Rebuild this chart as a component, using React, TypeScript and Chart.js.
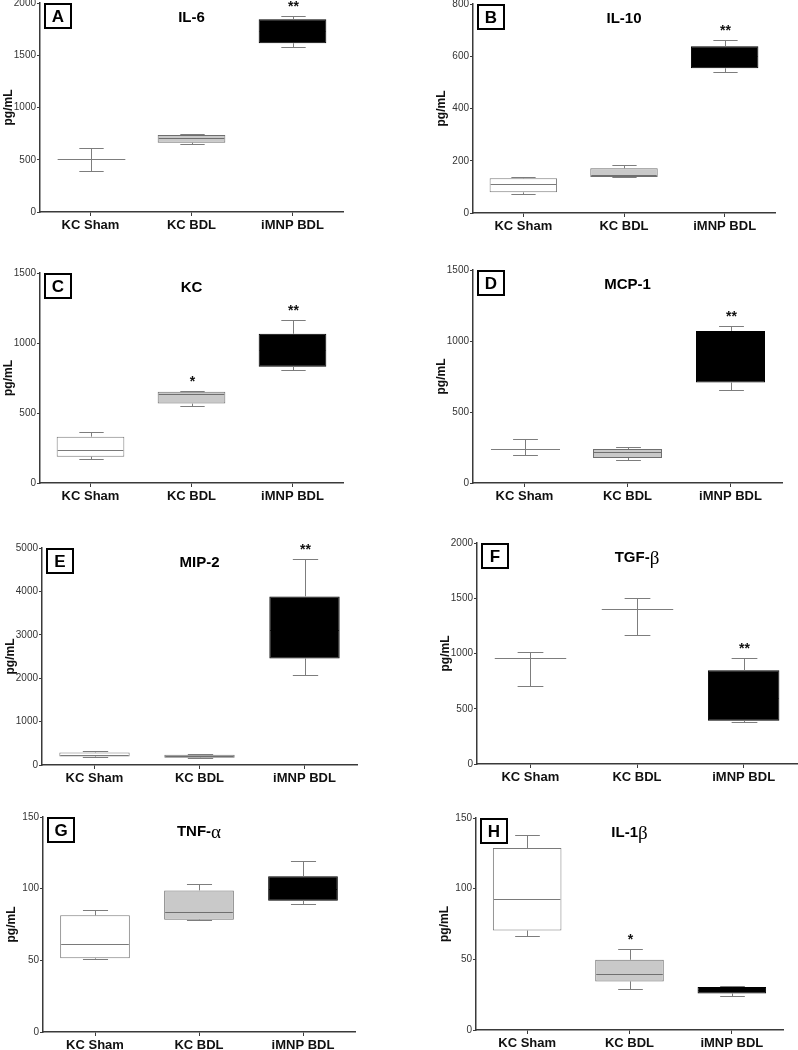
import React, { useEffect, useRef } from 'react';
import { Chart, registerables } from 'chart.js';

Chart.register(...registerables);

const FONT = '"Liberation Sans", Arial, Helvetica, sans-serif';
const SERIF = '"Liberation Serif", "Times New Roman", serif';
Chart.defaults.font.family = FONT;

// ---------- DATA ----------
const categories = ['KC Sham', 'KC BDL', 'iMNP BDL'];
const yAxisTitle = 'pg/mL';

// each group: [min, q1, median, q3, max]
const il6Stats = [[395, 507, 507, 507, 615], [648, 663, 705, 737, 743], [1579, 1615, 1730, 1844, 1879]];
const il6Marks = ['', '', '**'];
const il6Ticks = [0, 500, 1000, 1500, 2000];

const il10Stats = [[73, 79, 110, 133, 138], [138, 138, 145, 171, 183], [540, 554, 600, 638, 661]];
const il10Marks = ['', '', '**'];
const il10Ticks = [0, 200, 400, 600, 800];

const kcStats = [[171, 188, 238, 331, 362], [548, 567, 634, 652, 655], [807, 831, 950, 1066, 1167]];
const kcMarks = ['', '*', '**'];
const kcTicks = [0, 500, 1000, 1500];

const mcp1Stats = [[197, 239, 239, 239, 311], [159, 176, 220, 239, 251], [656, 708, 900, 1071, 1109]];
const mcp1Marks = ['', '', '**'];
const mcp1Ticks = [0, 500, 1000, 1500];

const mip2Stats = [[195, 198, 237, 290, 313], [160, 168, 198, 237, 250], [2081, 2456, 3100, 3885, 4747]];
const mip2Marks = ['', '', '**'];
const mip2Ticks = [0, 1000, 2000, 3000, 4000, 5000];

const tgfbStats = [[710, 957, 957, 957, 1014], [1167, 1399, 1399, 1399, 1504], [379, 391, 600, 848, 962]];
const tgfbMarks = ['', '', '**'];
const tgfbTicks = [0, 500, 1000, 1500, 2000];

const tnfaStats = [[51, 51.4, 61.6, 81.4, 85.3], [77.9, 78.4, 83.5, 98.8, 103.3], [89.3, 91.6, 100, 108.6, 119.3]];
const tnfaMarks = ['', '', ''];
const tnfaTicks = [0, 50, 100, 150];

const il1bStats = [[66.4, 70.4, 92.5, 128.8, 137.7], [28.7, 34.4, 39.6, 49.7, 57.2], [24.2, 25.9, 28, 30.4, 30.9]];
const il1bMarks = ['', '*', ''];
const il1bTicks = [0, 50, 100, 150];

// ---------- STYLE ----------
const boxFill = ['#ffffff', '#c9c9c9', '#000000'];
const boxEdge = ['#7a7a7a', '#6f6f6f', '#000000'];
const medianColor = ['#7a7a7a', '#6f6f6f', '#000000'];
const whiskerColor = '#7d7d7d';
const axisColor = '#3a3a3a';

// ---------- LAYOUT ----------
// canvas [x, y, w, h] and plot box [left, right, top, bottom] in page pixels
const panels = [
  { letter: 'A', title: 'IL-6', stats: il6Stats, marks: il6Marks, ticks: il6Ticks, canvas: [0, 0, 399, 245], plot: [40, 343, 3, 212] },
  { letter: 'B', title: 'IL-10', stats: il10Stats, marks: il10Marks, ticks: il10Ticks, canvas: [399, 0, 399, 245], plot: [473, 775, 4, 213] },
  { letter: 'C', title: 'KC', stats: kcStats, marks: kcMarks, ticks: kcTicks, canvas: [0, 245, 399, 260], plot: [40, 343, 273, 483] },
  { letter: 'D', title: 'MCP-1', stats: mcp1Stats, marks: mcp1Marks, ticks: mcp1Ticks, canvas: [399, 245, 399, 260], plot: [473, 782, 270, 483] },
  { letter: 'E', title: 'MIP-2', stats: mip2Stats, marks: mip2Marks, ticks: mip2Ticks, canvas: [0, 505, 399, 285], plot: [42, 357, 548, 765] },
  { letter: 'F', title: 'TGF-β', stats: tgfbStats, marks: tgfbMarks, ticks: tgfbTicks, canvas: [399, 505, 399, 285], plot: [477, 797, 543, 764] },
  { letter: 'G', title: 'TNF-α', stats: tnfaStats, marks: tnfaMarks, ticks: tnfaTicks, canvas: [0, 790, 399, 260], plot: [43, 355, 817, 1032] },
  { letter: 'H', title: 'IL-1β', stats: il1bStats, marks: il1bMarks, ticks: il1bTicks, canvas: [399, 790, 399, 260], plot: [476, 783, 818, 1030] },
];

const Y_AXIS_W = 40;
const BAR_PCT = 0.67;
const CAP_FRAC = 0.36;

const crisp = (v: number) => Math.round(v) + 0.5;

const boxPlugin = {
  id: 'boxExtras',
  afterDatasetsDraw(chart: any, _args: any, opts: any) {
    const { ctx, scales } = chart;
    const x = scales.x;
    const y = scales.y;
    const stats: number[][] = opts.stats;
    const meta = chart.getDatasetMeta(0);
    const catW = Math.abs(x.getPixelForValue(1) - x.getPixelForValue(0));
    ctx.save();
    ctx.lineWidth = 1;
    stats.forEach((s, i) => {
      const [mn, q1, md, q3, mx] = s;
      const el = meta.data[i];
      const elW = el && Number.isFinite(el.width) && el.width > 0 ? el.width : catW * BAR_PCT;
      const boxW = elW;
      const capW = catW * BAR_PCT * CAP_FRAC;
      const cx = crisp(x.getPixelForValue(i));
      ctx.strokeStyle = whiskerColor;
      ctx.beginPath();
      // upper whisker
      ctx.moveTo(cx, y.getPixelForValue(q3));
      ctx.lineTo(cx, crisp(y.getPixelForValue(mx)));
      ctx.moveTo(cx - capW / 2, crisp(y.getPixelForValue(mx)));
      ctx.lineTo(cx + capW / 2, crisp(y.getPixelForValue(mx)));
      // lower whisker
      ctx.moveTo(cx, y.getPixelForValue(q1));
      ctx.lineTo(cx, crisp(y.getPixelForValue(mn)));
      ctx.moveTo(cx - capW / 2, crisp(y.getPixelForValue(mn)));
      ctx.lineTo(cx + capW / 2, crisp(y.getPixelForValue(mn)));
      ctx.stroke();
      // median
      const left = el && Number.isFinite(el.x) && q1 !== q3 ? el.x - boxW / 2 + 1 : cx - boxW / 2;
      const right = el && Number.isFinite(el.x) && q1 !== q3 ? el.x + boxW / 2 - 1 : cx + boxW / 2;
      ctx.strokeStyle = q1 === q3 ? whiskerColor : medianColor[i];
      ctx.beginPath();
      const my = crisp(y.getPixelForValue(md));
      ctx.moveTo(left, my);
      ctx.lineTo(right, my);
      ctx.stroke();
      // significance marks
      const mark = opts.marks[i];
      if (mark) {
        ctx.fillStyle = '#111';
        ctx.font = `bold 14px ${FONT}`;
        ctx.textAlign = 'center';
        ctx.textBaseline = 'alphabetic';
        ctx.fillText(mark, cx, y.getPixelForValue(mx) - 5);
      }
    });
    ctx.restore();
  },
  afterDraw(chart: any, _args: any, opts: any) {
    const { ctx, chartArea } = chart;
    ctx.save();
    // panel letter box
    const bx = chartArea.left + 5;
    const by = chartArea.top + 1;
    const bw = 26;
    const bh = 24;
    ctx.lineWidth = 2;
    ctx.strokeStyle = '#000';
    ctx.fillStyle = '#fff';
    ctx.fillRect(bx, by, bw, bh);
    ctx.strokeRect(bx, by, bw, bh);
    ctx.fillStyle = '#000';
    ctx.font = `bold 17px ${FONT}`;
    ctx.textAlign = 'center';
    ctx.textBaseline = 'middle';
    ctx.fillText(opts.letter, bx + bw / 2, by + bh / 2 + 1);
    // title with Greek letters in serif
    const parts: { t: string; greek: boolean }[] = [];
    for (const ch of opts.title as string) {
      const greek = /[\u0370-\u03ff]/.test(ch);
      const last = parts[parts.length - 1];
      if (last && last.greek === greek) last.t += ch;
      else parts.push({ t: ch, greek });
    }
    const fontFor = (g: boolean) => (g ? `19px ${SERIF}` : `bold 15px ${FONT}`);
    let total = 0;
    parts.forEach((p) => {
      ctx.font = fontFor(p.greek);
      total += ctx.measureText(p.t).width;
    });
    let tx = (chartArea.left + chartArea.right) / 2 - total / 2;
    const ty = chartArea.top + 15;
    ctx.textAlign = 'left';
    ctx.textBaseline = 'middle';
    parts.forEach((p) => {
      ctx.font = fontFor(p.greek);
      ctx.fillText(p.t, tx, ty + (p.greek ? 1 : 0));
      tx += ctx.measureText(p.t).width;
    });
    ctx.restore();
  },
};

function makeConfig(p: any): any {
  const [cxL, cyT, cw, ch] = p.canvas;
  const [pl, pr, pt, pb] = p.plot;
  const ticks: number[] = p.ticks;
  const xAxisH = cyT + ch - pb;
  return {
    type: 'bar',
    data: {
      labels: categories,
      datasets: [
        {
          data: p.stats.map((s: number[]) => (s[1] === s[3] ? null : [s[1], s[3]])),
          backgroundColor: boxFill,
          borderColor: boxEdge,
          borderWidth: 1,
          borderSkipped: false,
          barPercentage: BAR_PCT,
          categoryPercentage: 1,
        },
      ],
    },
    options: {
      responsive: false,
      animation: false,
      devicePixelRatio: 1,
      layout: {
        padding: { left: pl - cxL - Y_AXIS_W, right: cxL + cw - pr, top: pt - cyT, bottom: 0 },
      },
      plugins: {
        legend: { display: false },
        tooltip: { enabled: false },
        boxExtras: { stats: p.stats, marks: p.marks, letter: p.letter, title: p.title },
      },
      scales: {
        x: {
          type: 'category',
          offset: true,
          grid: { offset: false, drawOnChartArea: false, drawTicks: true, tickLength: 4, color: axisColor, tickWidth: 1 },
          border: { display: true, color: axisColor, width: 1.5 },
          ticks: { color: '#111', font: { size: 13, weight: 'bold', family: FONT }, padding: 2, maxRotation: 0, autoSkip: false },
          afterFit: (s: any) => {
            s.height = xAxisH;
            s.paddingLeft = 0;
            s.paddingRight = 0;
          },
        },
        y: {
          min: ticks[0],
          max: ticks[ticks.length - 1],
          grid: { drawOnChartArea: false, drawTicks: true, tickLength: 3, color: axisColor, tickWidth: 1 },
          border: { display: true, color: axisColor, width: 1.5 },
          ticks: {
            stepSize: ticks[1] - ticks[0],
            color: '#333',
            font: { size: 10, family: FONT },
            padding: 1,
            callback: (v: any) => String(v),
          },
          title: {
            display: true,
            text: yAxisTitle,
            color: '#111',
            font: { size: 12, weight: 'bold', family: FONT },
            padding: { top: 1, bottom: 0 },
          },
          afterFit: (s: any) => {
            s.width = Y_AXIS_W;
            s.paddingTop = 0;
            s.paddingBottom = 0;
          },
        },
      },
    },
    plugins: [boxPlugin],
  };
}

function Panel({ p }: { p: any }) {
  const ref = useRef<HTMLCanvasElement | null>(null);
  useEffect(() => {
    const chart = new Chart(ref.current as HTMLCanvasElement, makeConfig(p));
    return () => chart.destroy();
  }, [p]);
  const [x, y, w, h] = p.canvas;
  return (
    <canvas
      ref={ref}
      width={w}
      height={h}
      style={{ position: 'absolute', left: x, top: y, width: w, height: h, display: 'block' }}
    />
  );
}

export default function App() {
  return (
    <div style={{ position: 'absolute', left: 0, top: 0, width: 798, height: 1050, overflow: 'hidden', background: '#fff' }}>
      {panels.map((p) => (
        <Panel key={p.letter} p={p} />
      ))}
    </div>
  );
}
